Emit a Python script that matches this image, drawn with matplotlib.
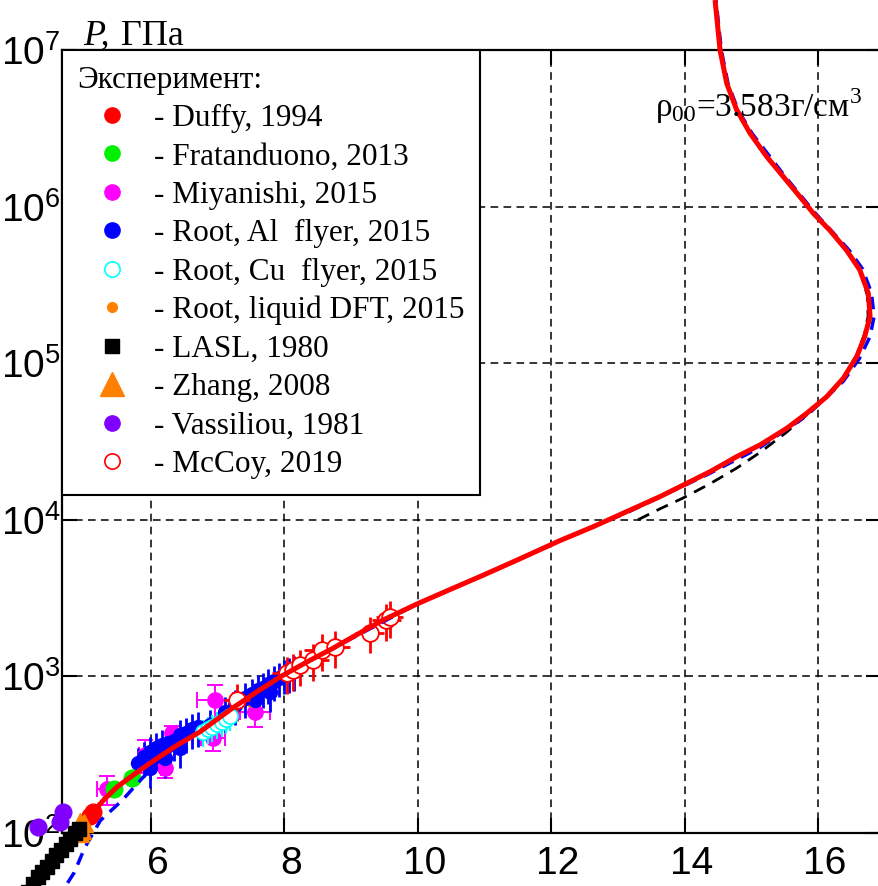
"""Shock Hugoniot of diamond: pressure vs density, model curves against experiments."""
import matplotlib

matplotlib.use("Agg")
import matplotlib.pyplot as plt
from matplotlib.lines import Line2D
from matplotlib.ticker import LogLocator, NullLocator, LogFormatterSciNotation
import matplotlib.transforms as mtransforms

# --- model curves: density rho (g/cm^3) and pressure P (GPa) ---
red_rho = [4.30, 4.50, 4.70, 4.90, 5.13, 5.30, 5.49, 5.75, 6.00, 6.35, 6.73, 7.23,
           7.60, 7.95, 8.35, 8.73, 9.10, 9.48, 10.0, 10.5, 11.0, 11.5, 12.13, 12.63,
           13.13, 13.63, 13.98, 14.38, 14.78, 15.13, 15.53, 15.83, 16.13, 16.38,
           16.58, 16.70, 16.78, 16.754, 16.627, 16.43, 16.178, 15.93, 15.729, 15.48,
           15.231, 14.981, 14.781, 14.631, 14.531, 14.456]
red_p = [55.0, 67.6, 83.2, 104.7, 136.1, 164.1, 196.8, 237.1, 281.8, 354.8, 441.6, 631.0,
         803.5, 1000, 1245, 1514, 1862, 2291, 2917, 3614, 4467, 5559, 7362, 9036,
         11272, 14060, 16670, 20280, 25290, 30060, 38370, 47860, 61090, 80170,
         1.102e5, 1.479e5, 1.995e5, 2.793e5, 3.936e5, 5.248e5, 7.047e5, 9.057e5,
         1.156e6, 1.552e6, 2.084e6, 2.938e6, 4.14e6, 6.124e6, 1.0e7, 2.084e7]

blue_rho = [4.75, 4.85, 5.01, 5.24, 5.57, 5.87, 6.10, 6.40, 6.73, 7.23, 7.95, 8.73,
            10.0, 11.0, 12.13, 13.13, 14.38, 15.13, 15.83, 16.38, 16.62, 16.78, 16.84,
            16.80, 16.67, 16.47, 15.96, 15.51, 15.01, 14.80, 14.65, 14.55, 14.47]
blue_p = [48, 56, 81, 120, 162, 224, 282, 363, 442, 631, 1000, 1514,
          2917, 4467, 7362, 11090, 19820, 28970, 46240, 76740, 1.072e5, 1.479e5,
          1.995e5, 2.818e5, 3.981e5, 5.248e5, 9.057e5, 1.549e6, 2.938e6, 4.14e6,
          6.124e6, 1.0e7, 2.084e7]

black_rho = [13.30, 13.63, 13.98, 14.38, 14.78, 15.13, 15.53, 15.83, 16.13, 16.38,
             16.58, 16.70, 16.75, 16.74, 16.627, 16.43, 16.178, 15.93, 15.729, 15.48,
             15.231, 14.981, 14.781, 14.631, 14.531]
black_p = [1.0e4, 11750, 13800, 16980, 21380, 26920, 36310, 46770, 61660, 81280,
           1.122e5, 1.549e5, 1.995e5, 2.692e5, 3.936e5, 5.248e5, 7.047e5, 9.057e5,
           1.156e6, 1.552e6, 2.084e6, 2.938e6, 4.14e6, 6.124e6, 1.0e7]

# --- experiments ---
duffy_rho = [5.08, 5.13]
duffy_p = [128, 137]

fratanduono_rho = [5.44, 5.72]
fratanduono_p = [190, 225]

miyanishi_rho = [5.34, 5.91, 6.21, 6.32, 6.96, 6.93, 7.56]
miyanishi_p = [191, 315, 260, 435, 706, 404, 593]
miyanishi_rho_err = [0.15, 0.09, 0.06, 0.06, 0.27, 0.18, 0.22]
miyanishi_p_err = [40, 75, 35, 50, 180, 70, 120]

root_al_rho = [5.805, 5.895, 5.985, 6.075, 6.165, 6.255, 6.345, 6.435, 6.525, 6.615,
               6.705, 5.985, 6.21, 6.435, 6.885, 7.11, 7.26, 7.409, 7.514, 7.559,
               7.604, 7.679, 7.754, 7.784, 7.844, 7.919, 7.994, 8.069, 8.144]
root_al_p = [280, 305, 329, 349, 365, 376, 387, 423, 435, 461,
             475, 260, 301, 349, 490, 593, 656, 728, 773, 706,
             819, 843, 894, 794, 935, 978, 1022, 1052, 1083]

root_cu_rho = [6.78, 6.855, 6.915, 6.99, 7.064, 7.124, 7.184]
root_cu_p = [442, 462, 475, 497, 512, 535, 559]

root_dft_rho = [7.20, 7.50, 7.80]
root_dft_p = [590, 700, 855]

lasl_rho = [4.15, 4.23, 4.30, 4.37, 4.44, 4.51, 4.58, 4.65, 4.72, 4.79, 4.86, 4.92]
lasl_p = [42, 47, 52, 56, 61, 66, 72, 78, 85, 92, 100, 106]

zhang_rho = [4.90, 4.94, 4.97, 4.93, 4.99]
zhang_p = [110, 118, 105, 100, 115]

vassiliou_rho = [4.31, 4.64, 4.68]
vassiliou_p = [109, 118, 136]

mccoy_rho = [7.29, 8.04, 8.13, 8.23, 8.43, 8.56, 8.76, 9.28, 9.53, 9.58]
mccoy_p = [708, 1050, 1100, 1175, 1274, 1479, 1549, 1905, 2291, 2399]
mccoy_rho_err = [0.2, 0.22, 0.2, 0.22, 0.24, 0.26, 0.22, 0.22, 0.22, 0.2]
mccoy_p_err = [190, 280, 290, 310, 340, 390, 410, 500, 600, 630]

legend_labels = [
    "- Duffy, 1994",
    "- Fratanduono, 2013",
    "- Miyanishi, 2015",
    "- Root, Al  flyer, 2015",
    "- Root, Cu  flyer, 2015",
    "- Root, liquid DFT, 2015",
    "- LASL, 1980",
    "- Zhang, 2008",
    "- Vassiliou, 1981",
    "- McCoy, 2019",
]

RED = "#ff0000"
GREEN = "#00f000"
MAGENTA = "#ff00ff"
BLUE = "#0000ff"
CYAN = "#00ffff"
ORANGE = "#ff8000"
PURPLE = "#8000ff"

SERIF = "Liberation Serif"


def draw(ax):
    common = dict(clip_on=False, linestyle="none")

    # experimental points under the model curves
    ax.errorbar(miyanishi_rho, miyanishi_p, xerr=miyanishi_rho_err, yerr=miyanishi_p_err,
                marker="o", ms=11, color=MAGENTA, ecolor=MAGENTA, elinewidth=1.4,
                capsize=6, capthick=1.4, zorder=2.0, **common)
    ax.errorbar(root_al_rho, root_al_p, yerr=[0.25 * p for p in root_al_p],
                marker="o", ms=10, color=BLUE, ecolor=BLUE, elinewidth=2.0,
                zorder=2.05, **common)
    ax.errorbar(root_cu_rho, root_cu_p, yerr=[0.2 * p for p in root_cu_p],
                marker="o", ms=11, mfc="white", mec=CYAN, mew=1.2, ecolor=CYAN,
                elinewidth=1.5, zorder=2.1, **common)
    ax.plot(root_dft_rho, root_dft_p, marker="o", ms=8, color=ORANGE, zorder=2.12, **common)
    ax.errorbar(mccoy_rho, mccoy_p, xerr=mccoy_rho_err, yerr=mccoy_p_err,
                marker="o", ms=12, mfc="white", mec=RED, mew=1.3, ecolor=RED,
                elinewidth=2.0, zorder=2.15, **common)
    ax.plot(fratanduono_rho, fratanduono_p, marker="o", ms=12, color=GREEN, zorder=2.2, **common)
    ax.plot(duffy_rho, duffy_p, marker="o", ms=12, color=RED, zorder=2.2, **common)

    # model curves
    ax.plot(black_rho, black_p, color="black", lw=2.0, dashes=(4.5, 3.0), clip_on=False, zorder=2.3)
    ax.plot(blue_rho, blue_p, color=BLUE, lw=2.5, dashes=(3.6, 2.4), clip_on=False, zorder=2.4)
    ax.plot(red_rho, red_p, color=RED, lw=3.6, solid_capstyle="butt",
            solid_joinstyle="round", clip_on=False, zorder=2.6)

    # low-pressure data drawn above the curve and tick labels
    ax.plot(zhang_rho, zhang_p, marker="^", ms=13, color=ORANGE, zorder=3.0, **common)
    ax.plot(lasl_rho, lasl_p, marker="s", ms=10, color="black", zorder=3.1, **common)
    ax.plot(vassiliou_rho, vassiliou_p, marker="o", ms=12, color=PURPLE, zorder=3.2, **common)


def add_legend(ax):
    handles = [
        Line2D([], [], ls="none", marker="o", ms=11, color=RED),
        Line2D([], [], ls="none", marker="o", ms=11, color=GREEN),
        Line2D([], [], ls="none", marker="o", ms=11, color=MAGENTA),
        Line2D([], [], ls="none", marker="o", ms=11, color=BLUE),
        Line2D([], [], ls="none", marker="o", ms=11, mfc="white", mec=CYAN, mew=1.2),
        Line2D([], [], ls="none", marker="o", ms=7, color=ORANGE),
        Line2D([], [], ls="none", marker="s", ms=10, color="black"),
        Line2D([], [], ls="none", marker="^", ms=17, color=ORANGE),
        Line2D([], [], ls="none", marker="o", ms=11, color=PURPLE),
        Line2D([], [], ls="none", marker="o", ms=11, mfc="white", mec=RED, mew=1.2),
    ]
    leg = ax.legend(handles, legend_labels, title="Эксперимент:", loc="upper left",
                    bbox_to_anchor=(0, 1), borderaxespad=0, borderpad=0.5,
                    handlelength=2.2, handletextpad=0.25, labelspacing=0.3,
                    prop={"family": SERIF, "size": 22.5},
                    title_fontproperties={"family": SERIF, "size": 22.5},
                    alignment="left", fancybox=False, framealpha=1, edgecolor="black")
    leg.get_frame().set_linewidth(1.5)
    leg.set_zorder(5)


def main():
    plt.rcParams["font.family"] = "Liberation Sans"

    fig = plt.figure(figsize=(8.79, 8.86), dpi=100)
    ax = fig.add_axes([62 / 879, 1 - 833 / 886, 819 / 879, 783 / 886])

    draw(ax)

    ax.set_yscale("log")
    ax.set_xlim(4.666, 16.944)
    ax.set_ylim(100, 1e7)
    ax.set_xticks([6, 8, 10, 12, 14, 16])
    ax.yaxis.set_major_locator(LogLocator(base=10, numticks=10))
    ax.yaxis.set_major_formatter(LogFormatterSciNotation())
    ax.yaxis.set_minor_locator(NullLocator())
    ax.tick_params(direction="in", length=11, width=1.5, top=True, right=True, labelsize=28)
    ax.tick_params(axis="x", pad=9)
    ax.tick_params(axis="y", pad=1)
    for spine in ax.spines.values():
        spine.set_linewidth(1.6)
    ax.set_axisbelow(True)
    ax.grid(True, which="major", color="black", linewidth=1.1, linestyle=(0, (5, 3.5)))

    shift = mtransforms.ScaledTranslation(5 / 72, 0, fig.dpi_scale_trans)
    for label in ax.get_xticklabels():
        label.set_transform(label.get_transform() + shift)

    add_legend(ax)

    fig.text(83 / 879, 1 - 45 / 886, "P,", family=SERIF, style="italic", size=26, va="baseline")
    fig.text(121 / 879, 1 - 45 / 886, "ГПа", family=SERIF, size=26, va="baseline")
    fig.text(655 / 879, 1 - 117 / 886, "$\\mathdefault{ρ_{00}}$=3.583г/см$^{\\mathdefault{3}}$",
             family=SERIF, size=24, va="baseline")

    fig.savefig("out.png", dpi=100)
    plt.close(fig)


if __name__ == "__main__":
    main()
